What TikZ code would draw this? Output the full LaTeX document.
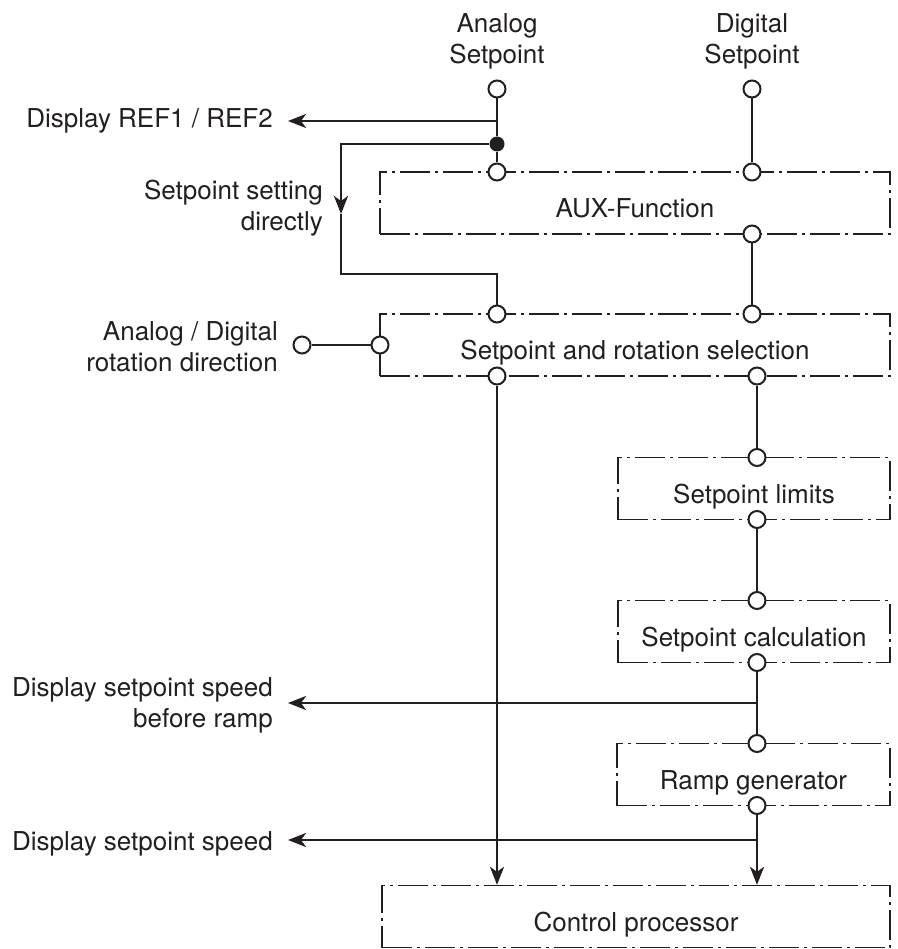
\documentclass[tikz,border=0pt]{standalone}
\usepackage{fontspec}
\setmainfont{TeX Gyre Heros}
\usetikzlibrary{arrows.meta}
\definecolor{ink}{HTML}{231F20}
\tikzset{
  blk/.style={draw=ink, line width=1.3pt, dash pattern=on 30pt off 5pt on 3pt off 5pt,
              minimum height=62pt, inner sep=0pt, text height=29pt, text depth=0pt},
  pin/.style={circle, draw=ink, fill=white, line width=2pt, inner sep=0pt, minimum size=17pt},
  jdot/.style={circle, fill=ink, inner sep=0pt, minimum size=15pt},
  wire/.style={draw=ink, line width=2.7pt},
  arr/.style={wire, -{Stealth[length=18pt,width=14pt,inset=5pt]}},
  lbl/.style={align=right, inner xsep=15pt, inner ysep=0pt, anchor=east},
}

\begin{document}
\begin{tikzpicture}[x=1pt, y=-1pt, font=\fontsize{26}{31}\selectfont, text=ink,
      head/.style={align=center, inner sep=0pt}]
    \useasboundingbox (0,0) rectangle (897,949);
    % blocks
    \node[blk, minimum width=510pt] (aux)  at (635,203)   {AUX-Function};
    \node[blk, minimum width=510pt] (sel)  at (635,345)   {Setpoint and rotation selection};
    \node[blk, minimum width=272pt] (lim)  at (754,488.5) {Setpoint limits};
    \node[blk, minimum width=272pt] (calc) at (754,631.5) {Setpoint calculation};
    \node[blk, minimum width=273pt] (ramp) at (753.5,774.5) {Ramp generator};
    \node[blk, minimum width=508pt] (ctrl) at (636,916.5) {Control processor};
    % texts
    \node[head] (anaT) at (497,41) {Analog\\Setpoint};
    \node[head] (digT) at (752,41) {Digital\\Setpoint};
    \node[lbl] (refT) at (288,121)   {Display REF1 / REF2};
    \node[lbl] (dirT) at (338,208.5) {Setpoint setting\\directly};
    \node[lbl] (rotT) at (293,347)   {Analog / Digital\\rotation direction};
    \node[lbl] (bfrT) at (288,705.5) {Display setpoint speed\\before ramp};
    \node[lbl] (spdT) at (288,844)   {Display setpoint speed};
    % terminals
    \node[pin] (ain)   at (497,89)  {};
    \node[pin] (din)   at (752,89)  {};
    \node[pin] (auxA)  at (497,172) {};
    \node[pin] (auxD)  at (752,172) {};
    \node[pin] (auxO)  at (752,234) {};
    \node[pin] (selA)  at (497,314) {};
    \node[pin] (selD)  at (752,314) {};
    \node[pin] (selR)  at (380,345) {};
    \node[pin] (selOA) at (497,376) {};
    \node[pin] (selOD) at (757,376) {};
    \node[pin] (limI)  at (757,457.5) {};
    \node[pin] (limO)  at (757,519.5) {};
    \node[pin] (calcI) at (757,600.5) {};
    \node[pin] (calcO) at (757,662.5) {};
    \node[pin] (rampI) at (757,743.5) {};
    \node[pin] (rampO) at (757,805.5) {};
    \node[pin] (rot)   at (302,345) {};
    \node[jdot] (jd)   at (497,144) {};
    \coordinate (refj)  at (497,121);
    \coordinate (dirA)  at (341,214);
    \coordinate (loopc) at (497,274);
    \coordinate (bfr)   at (757,703);
    \coordinate (spd)   at (757,840);
    % connectors
    \draw[wire] (ain) -- (jd) -- (auxA);
    \draw[arr] (refj) -- (refT.east |- refj);
    \draw[arr] (jd) -| (dirA);
    \draw[wire] (dirA) |- (loopc) -- (selA);
    \draw[wire] (din) -- (auxD);
    \draw[wire] (auxO) -- (selD);
    \draw[wire] (rot) -- (selR);
    \draw[arr] (selOA) -- (ctrl.north -| selOA);
    \draw[wire] (selOD) -- (limI);
    \draw[wire] (limO) -- (calcI);
    \draw[wire] (calcO) -- (rampI);
    \draw[arr] (bfr) -- (bfrT.east |- bfr);
    \draw[arr] (rampO) -- (ctrl.north -| rampO);
    \draw[arr] (spd) -- (spdT.east |- spd);
\end{tikzpicture}
\end{document}
